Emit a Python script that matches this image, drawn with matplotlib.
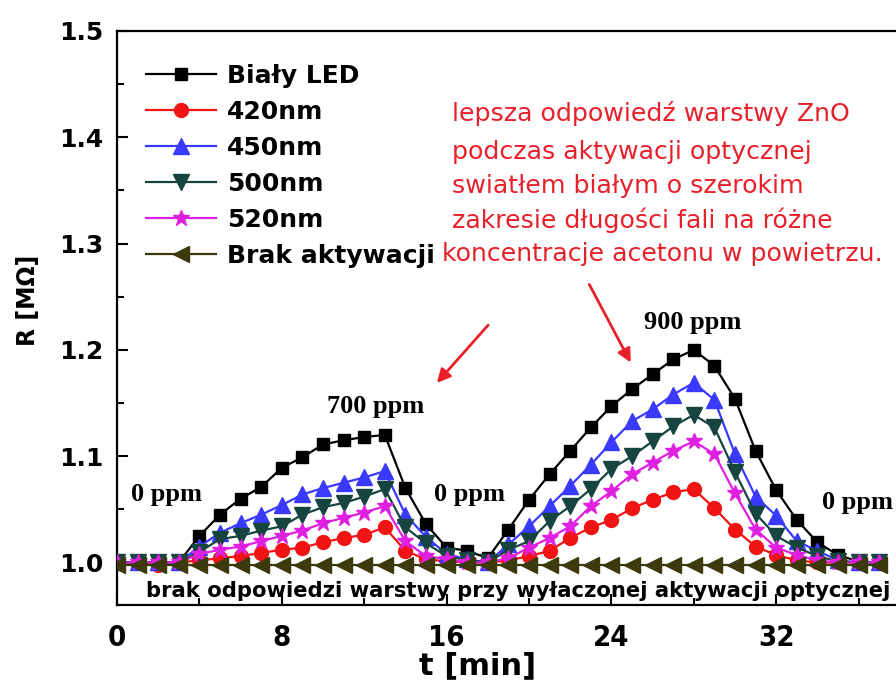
import numpy as np
import matplotlib
matplotlib.use('Agg')
import matplotlib.pyplot as plt
from matplotlib.ticker import MultipleLocator

# czas pomiaru [min]
t = list(range(38))

bialy_led = [1.000, 1.000, 1.000, 1.000, 1.025, 1.045, 1.060, 1.071, 1.089, 1.099,
             1.111, 1.115, 1.118, 1.120, 1.070, 1.036, 1.014, 1.011, 1.004, 1.031,
             1.059, 1.083, 1.105, 1.127, 1.147, 1.163, 1.177, 1.191, 1.200, 1.185,
             1.154, 1.105, 1.068, 1.040, 1.019, 1.007, 1.001, 1.000]
nm420 = [1.000, 1.000, 0.998, 1.000, 1.002, 1.004, 1.006, 1.009, 1.012, 1.014,
         1.019, 1.023, 1.026, 1.033, 1.011, 1.003, 1.001, 1.000, 1.000, 1.002,
         1.006, 1.011, 1.023, 1.033, 1.040, 1.051, 1.059, 1.066, 1.069, 1.051,
         1.031, 1.015, 1.007, 1.002, 1.000, 1.000, 1.000, 1.000]
nm450 = [1.000, 1.000, 1.000, 1.000, 1.015, 1.028, 1.037, 1.045, 1.054, 1.064,
         1.070, 1.075, 1.080, 1.086, 1.045, 1.024, 1.008, 1.003, 1.000, 1.017,
         1.034, 1.053, 1.072, 1.092, 1.113, 1.133, 1.144, 1.158, 1.169, 1.153,
         1.102, 1.062, 1.044, 1.020, 1.011, 1.002, 1.000, 1.000]
nm500 = [1.000, 1.000, 1.000, 1.000, 1.010, 1.022, 1.025, 1.030, 1.034, 1.045,
         1.052, 1.056, 1.062, 1.069, 1.033, 1.018, 1.006, 1.002, 1.000, 1.012,
         1.020, 1.039, 1.053, 1.069, 1.088, 1.100, 1.114, 1.128, 1.139, 1.127,
         1.085, 1.046, 1.025, 1.014, 1.006, 1.001, 1.000, 1.000]
nm520 = [1.000, 1.000, 1.000, 1.000, 1.008, 1.012, 1.015, 1.020, 1.025, 1.030,
         1.037, 1.042, 1.047, 1.053, 1.020, 1.006, 1.003, 1.000, 1.000, 1.004,
         1.014, 1.023, 1.034, 1.053, 1.067, 1.083, 1.094, 1.105, 1.114, 1.102,
         1.065, 1.031, 1.014, 1.007, 1.002, 1.000, 1.000, 1.000]
brak = [0.998, 0.998, 0.998, 0.998, 0.998, 0.998, 0.998, 0.998, 0.998, 0.998,
        0.998, 0.998, 0.998, 0.998, 0.998, 0.998, 0.998, 0.998, 0.998, 0.998,
        0.998, 0.998, 0.998, 0.998, 0.998, 0.998, 0.998, 0.998, 0.998, 0.998,
        0.998, 0.998, 0.998, 0.998, 0.998, 0.998, 0.998, 0.998]

series = [
    ('Biały LED', bialy_led, 'black', 's', 9),
    ('420nm', nm420, '#f01414', 'o', 10),
    ('450nm', nm450, '#3a3aff', '^', 11),
    ('500nm', nm500, '#16443f', 'v', 11),
    ('520nm', nm520, '#e020e0', '*', 12),
    ('Brak aktywacji', brak, '#3c3a0c', '<', 11),
]

W, H = 896, 691
fig = plt.figure(figsize=(W / 100, H / 100), dpi=100)


def px(x, y):
    return x / W, 1 - y / H


# os wychodzi poza prawa krawedz rysunku
ax = fig.add_axes([117 / W, 86 / H, 824 / W, 574 / H])

for name, vals, col, mk, ms in series:
    ax.plot(t, vals, '-', color=col, marker=mk, markersize=ms, lw=1.6,
            label=name, zorder=3)

ax.set_xlim(0, 40)
ax.set_ylim(0.96, 1.5)
ax.xaxis.set_minor_locator(MultipleLocator(4))
ax.yaxis.set_major_locator(MultipleLocator(0.1))
ax.yaxis.set_minor_locator(MultipleLocator(0.05))
ax.tick_params(which='both', direction='in', width=1.5, top=False, right=False)
ax.tick_params(which='major', length=8)
ax.tick_params(which='minor', length=5)
ax.tick_params(axis='y', pad=10)
ax.tick_params(axis='x', pad=14)
for s in ax.spines.values():
    s.set_linewidth(1.6)
ax.spines['right'].set_visible(False)

ax.set_xticks([0, 8, 16, 24, 32])
ax.set_xticklabels(['0', '8', '16', '24', '32'])
for lab in ax.get_xticklabels():
    lab.set_fontsize(21)
    lab.set_fontweight('bold')
    lab.set_fontstretch('condensed')
ax.set_yticklabels(['%.1f' % v for v in ax.get_yticks()])
for lab in ax.get_yticklabels():
    lab.set_fontsize(18)
    lab.set_fontweight('bold')

ax.set_xlabel('t [min]', fontsize=22, fontweight='bold')
ax.xaxis.set_label_coords((478 - 117) / 824, -0.08)
fig.text(*px(28, 300), 'R [MΩ]', fontsize=17, fontweight='bold',
         rotation=90, ha='center', va='center')

leg = ax.legend(loc='upper left', bbox_to_anchor=px(136, 54),
                bbox_transform=fig.transFigure, frameon=False,
                handlelength=2.8, handletextpad=0.45, labelspacing=0.48,
                borderaxespad=0, prop={'size': 18, 'weight': 'bold'})

# opisy stezen
serif = {'family': 'Liberation Serif', 'weight': 'bold', 'size': 19}
fig.text(*px(376, 407), '700 ppm', ha='center', va='center', **serif)
fig.text(*px(693, 323), '900 ppm', ha='center', va='center', **serif)
fig.text(*px(166, 495), '0 ppm', ha='center', va='center', **serif)
fig.text(*px(469, 495), '0 ppm', ha='center', va='center', **serif)
fig.text(*px(857, 503), '0 ppm', ha='center', va='center', **serif)

fig.text(*px(146, 591), 'brak odpowiedzi warstwy przy wyłaczonej aktywacji optycznej',
         fontsize=15.2, fontweight='bold', ha='left', va='center')

red_txt = ['lepsza odpowiedź warstwy ZnO',
           'podczas aktywacji optycznej',
           'swiatłem białym o szerokim',
           'zakresie długości fali na różne',
           'koncentracje acetonu w powietrzu.']
red_x = [452, 452, 452, 452, 442]
red_y = [113, 152, 186, 220, 254]
for s, x0, y0 in zip(red_txt, red_x, red_y):
    fig.text(*px(x0, y0), s, fontsize=18.2, color='#e8202a', ha='left', va='center')

arrow = dict(arrowstyle='-|>', color='#e8202a', lw=2, mutation_scale=20)
ax.annotate('', xy=px(435, 385), xytext=px(490, 323), xycoords='figure fraction',
            textcoords='figure fraction', arrowprops=arrow)
ax.annotate('', xy=px(632, 365), xytext=px(588, 282), xycoords='figure fraction',
            textcoords='figure fraction', arrowprops=arrow)

fig.savefig('out.png', dpi=100)
